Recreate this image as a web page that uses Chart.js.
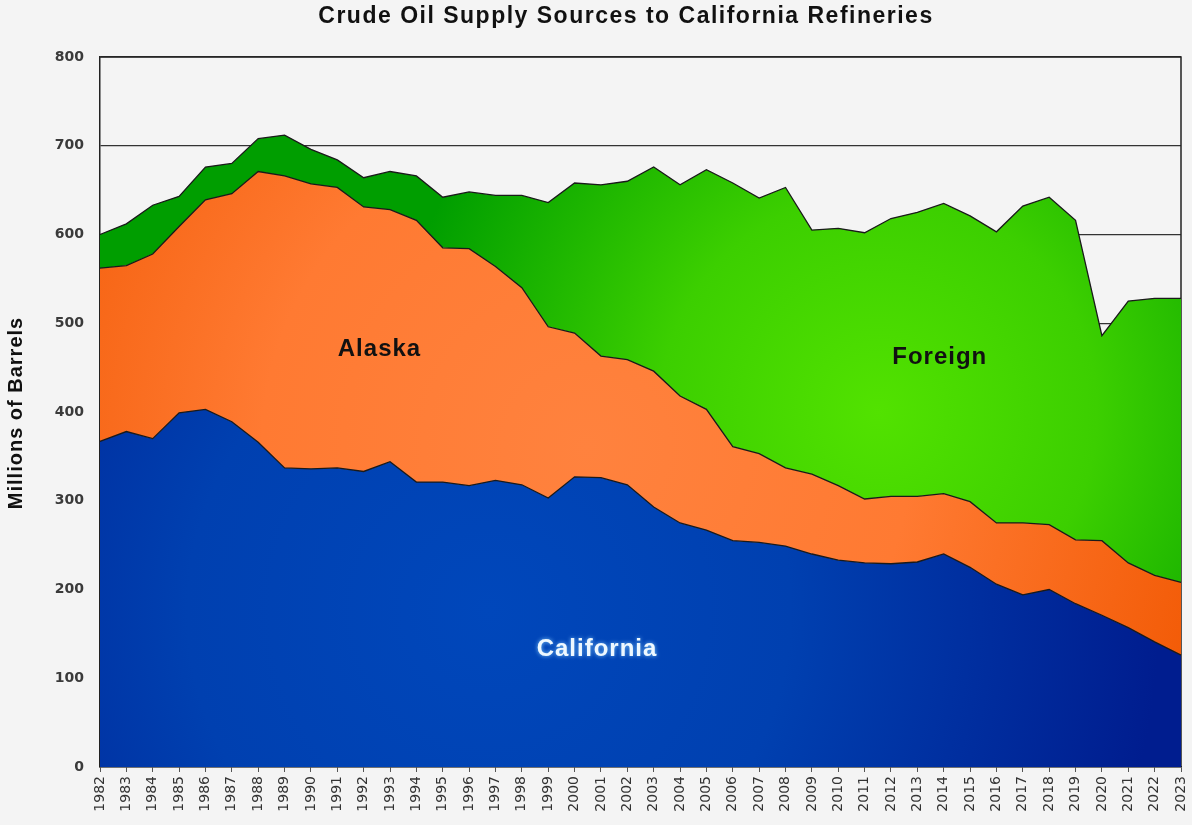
<!DOCTYPE html>
<html>
  <head>
    <style>
      body {
        margin: 0;
        background: #f4f4f4;
        font-family: "Liberation Sans", Arial, sans-serif;
      }
      .wrap {
        width: 1192px;
        height: 825px;
      }
    </style>
    <script src="https://cdn.jsdelivr.net/npm/chart.js"></script>
  </head>
  <body>
    <div class="wrap">
      <canvas id="oilChart" width="1192" height="825"></canvas>
    </div>
    <script>
      // years 1982 - 2023
      var years = [];
      for (var y = 1982; y <= 2023; y++) years.push(String(y));

      // millions of barrels
      var california = [367, 378, 370, 399, 403, 389, 366, 337, 336, 337, 333, 344, 321, 321, 317, 323, 318, 303, 327, 326,
                        318, 293, 275, 267, 255, 253, 249, 240, 233, 230, 229, 231, 240, 225, 206, 194, 200, 184, 171, 157, 141, 126];
      var alaska = [195, 187, 208, 210, 236, 257, 305, 329, 321, 316, 298, 284, 295, 264, 267, 241, 222, 193, 162, 137,
                    141, 153, 143, 136, 106, 100, 88, 90, 84, 72, 76, 74, 68, 74, 69, 81, 73, 72, 84, 73, 75, 82];
      var foreign = [38, 47, 55, 34, 37, 34, 37, 46, 39, 31, 33, 43, 50, 57, 64, 80, 104, 140, 169, 193,
                     201, 230, 238, 270, 297, 288, 316, 275, 290, 300, 313, 320, 327, 322, 328, 357, 369, 360, 231, 295, 312, 320];

      var yTicks = [0, 100, 200, 300, 400, 500, 600, 700, 800];

      // area labels: [text, year index, value]
      var areaLabels = [
        ['Alaska', 10.6, 471],
        ['Foreign', 31.85, 462],
        ['California', 18.85, 132]
      ];

      var FONT = '"Liberation Sans", Arial, sans-serif';

      function radial(chart, fx, fy, r, stops) {
        var a = chart.chartArea;
        if (!a) return null;
        var w = a.right - a.left, h = a.bottom - a.top;
        var cx = a.left + fx * w, cy = a.top + fy * h;
        var g = chart.ctx.createRadialGradient(cx, cy, 0, cx, cy, r * w);
        stops.forEach(function(s) { g.addColorStop(s[0], s[1]); });
        return g;
      }

      var framePlugin = {
        id: 'frame',
        beforeDatasetsDraw: function(chart) {
          var a = chart.chartArea, ctx = chart.ctx;
          ctx.save();
          ctx.strokeStyle = '#222';
          ctx.lineWidth = 1.5;
          ctx.beginPath();
          ctx.moveTo(a.left, a.top);
          ctx.lineTo(a.right, a.top);
          ctx.lineTo(a.right, a.bottom);
          ctx.stroke();
          ctx.restore();
        },
        afterDatasetsDraw: function(chart) {
          var ctx = chart.ctx;
          var xs = chart.scales.x, ys = chart.scales.y;
          ctx.save();
          ctx.textAlign = 'center';
          ctx.textBaseline = 'middle';
          ctx.letterSpacing = '1px';
          ctx.font = 'bold 24px ' + FONT;
          areaLabels.forEach(function(l) {
            var px = xs.getPixelForValue(l[1]);
            var py = ys.getPixelForValue(l[2]);
            if (l[0] === 'California') {
              ctx.fillStyle = '#eef8ff';
              ctx.shadowColor = 'rgba(140,210,255,0.9)';
              ctx.shadowBlur = 4;
            } else {
              ctx.fillStyle = '#111';
              ctx.shadowBlur = 0;
            }
            ctx.fillText(l[0], px, py);
          });
          ctx.shadowBlur = 0;
          // title
          ctx.fillStyle = '#111';
          ctx.letterSpacing = '1.5px';
          ctx.font = 'bold 23px ' + FONT;
          ctx.fillText('Crude Oil Supply Sources to California Refineries', 626, 17);
          // y axis title
          ctx.letterSpacing = '1px';
          ctx.font = 'bold 20px ' + FONT;
          ctx.translate(16, 413);
          ctx.rotate(-Math.PI / 2);
          ctx.fillText('Millions of Barrels', 0, 0);
          ctx.restore();
        }
      };

      var ctx = document.getElementById('oilChart').getContext('2d');
      var chart = new Chart(ctx, {
        type: 'line',
        data: {
          labels: years,
          datasets: [{
            label: 'California',
            data: california,
            fill: 'origin',
            borderColor: '#1a1a1a',
            borderWidth: 1.3,
            pointRadius: 0,
            backgroundColor: function(c) {
              return radial(c.chart, 0.36, 0.78, 0.62, [[0, '#0047bb'], [0.45, '#0040b0'], [1, '#001d8f']]);
            }
          }, {
            label: 'Alaska',
            data: alaska,
            fill: '-1',
            borderColor: '#1a1a1a',
            borderWidth: 1.3,
            pointRadius: 0,
            backgroundColor: function(c) {
              return radial(c.chart, 0.45, 0.55, 0.6, [[0, '#ff823e'], [0.5, '#ff7a32'], [1, '#f25a05']]);
            }
          }, {
            label: 'Foreign',
            data: foreign,
            fill: '-1',
            borderColor: '#1a1a1a',
            borderWidth: 1.3,
            pointRadius: 0,
            backgroundColor: function(c) {
              return radial(c.chart, 0.72, 0.5, 0.45, [[0, '#52e200'], [0.45, '#3ccf00'], [1, '#009e00']]);
            }
          }]
        },
        options: {
          responsive: false,
          animation: false,
          layout: {
            padding: { top: 57, right: 11, left: 0, bottom: 0 }
          },
          elements: { line: { tension: 0 } },
          plugins: {
            legend: { display: false },
            tooltip: { enabled: false }
          },
          scales: {
            x: {
              offset: false,
              grid: {
                drawOnChartArea: false,
                drawTicks: true,
                tickLength: 5,
                color: '#555'
              },
              border: { color: '#222', width: 1.5 },
              ticks: {
                autoSkip: false,
                minRotation: 90,
                maxRotation: 90,
                padding: 4,
                color: '#333',
                font: { size: 14, family: '"DejaVu Sans", sans-serif' }
              },
              afterFit: function(s) {
                s.height = 58;
                s.paddingLeft = 0;
                s.paddingRight = 0;
              }
            },
            y: {
              stacked: true,
              min: 0,
              max: 800,
              afterBuildTicks: function(s) {
                s.ticks = yTicks.map(function(v) { return { value: v }; });
              },
              grid: {
                color: '#333',
                lineWidth: 1.3,
                drawTicks: false
              },
              border: { color: '#222', width: 1.5 },
              ticks: {
                padding: 16,
                color: '#3a3a3a',
                font: { size: 14, weight: 'bold', family: '"DejaVu Sans", sans-serif' }
              },
              afterFit: function(s) { s.width = 100; }
            }
          }
        },
        plugins: [framePlugin]
      });
    </script>
  </body>
</html>
